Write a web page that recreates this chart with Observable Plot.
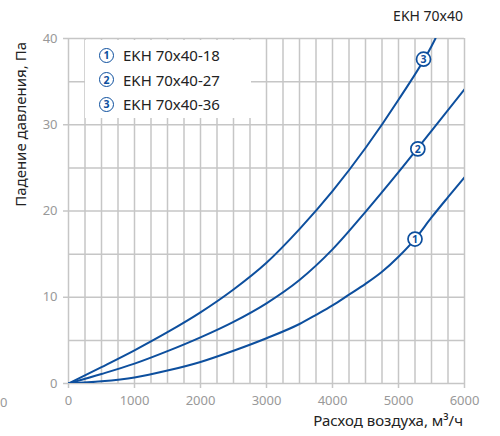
<!DOCTYPE html>
<html><head><meta charset="utf-8">
<script src="https://cdn.jsdelivr.net/npm/d3@7"></script>
<script src="https://cdn.jsdelivr.net/npm/@observablehq/plot@0.6"></script>
<style>
body{margin:0;background:#fff;font-family:"Noto Sans",sans-serif;}
#wrap{position:relative;width:500px;height:436px;overflow:hidden;background:#fff;}
#wrap svg{position:absolute;left:0;top:0;}
.t{position:absolute;white-space:nowrap;color:#222;font-size:15px;line-height:1;}
#legend{position:absolute;left:85px;top:40px;width:166px;height:78px;background:#fff;}
.li{position:absolute;left:14px;height:16px;display:flex;align-items:center;font-size:15px;color:#222;}
.ci{box-sizing:border-box;width:15px;height:15px;border:1.7px solid #0d4f9e;border-radius:50%;color:#0d4f9e;font-weight:bold;font-size:10.5px;display:flex;align-items:center;justify-content:center;margin-right:9px;background:#fff;}
</style></head><body>
<div id="wrap"></div>
<script>
const seriesNames = ["EKH 70x40-18", "EKH 70x40-27", "EKH 70x40-36"];
const seriesMarks = ["1", "2", "3"];
const flow18 = [0, 500, 1000, 1500, 2000, 2500, 3000, 3500, 3750, 4000, 4250, 4500, 4750, 5000, 5250, 5500, 5750, 6000];
const dp18   = [0, 0.25, 0.7, 1.5, 2.5, 3.8, 5.25, 6.9, 7.95, 9.05, 10.3, 11.55, 12.95, 14.7, 16.75, 19.25, 21.6, 23.9];
const flow27 = [0, 500, 1000, 1500, 2000, 2500, 3000, 3500, 4000, 4500, 5000, 5500, 6000];
const dp27   = [0, 1.1, 2.3, 3.75, 5.35, 7.15, 9.3, 12.0, 15.55, 19.9, 24.5, 29.3, 34.1];
const flow36 = [0, 500, 1000, 1500, 2000, 2500, 3000, 3500, 4000, 4500, 5000, 5500, 5560];
const dp36   = [0, 1.9, 3.85, 5.95, 8.25, 10.9, 14.0, 17.9, 22.3, 27.3, 32.9, 39.1, 40];
const markFlow = [5250, 5293, 5379];
const markDp   = [16.75, 27.2, 37.6];
const xTicks = [0, 1000, 2000, 3000, 4000, 5000, 6000];
const yTicks = [0, 10, 20, 30, 40];
const xGrid = d3.range(0, 6001, 250);
const yGrid = d3.range(0, 41, 5);
const titleText = "EKH 70x40";
const xLabel = "Расход воздуха, м³/ч";
const yLabel = "Падение давления, Па";

const blue = "#0d4f9e";
const grid = "#c6c6c6";

const flows = [flow18, flow27, flow36];
const dps = [dp18, dp27, dp36];
const rows = [];
seriesNames.forEach((s, i) => flows[i].forEach((f, j) => rows.push({s, f, p: dps[i][j]})));
const marks = seriesMarks.map((m, i) => ({m, f: markFlow[i], p: markDp[i]}));

const chart = Plot.plot({
  width: 500, height: 436,
  marginLeft: 68, marginRight: 36, marginTop: 38, marginBottom: 53,
  x: {domain: [0, 6000]},
  y: {domain: [0, 40]},
  style: {fontFamily: "Noto Sans", fontSize: "13px", background: "transparent"},
  marks: [
    Plot.ruleX(xGrid, {x: d => d, stroke: grid, strokeWidth: 1.5}),
    Plot.ruleY(yGrid, {y: d => d, stroke: grid, strokeWidth: 1.5}),
    Plot.axisX(xTicks, {tickSize: 5, tickPadding: 7, stroke: grid, strokeWidth: 1.5, fill: "#999", fontSize: 13, label: null, tickFormat: d3.format("d")}),
    Plot.axisY(yTicks, {tickSize: 5, tickPadding: 6, stroke: grid, strokeWidth: 1.5, fill: "#999", fontSize: 13, label: null}),
    Plot.line(rows, {x: "f", y: "p", z: "s", stroke: blue, strokeWidth: 2, curve: "monotone-x", clip: true})
  ]
});
const wrap = document.getElementById("wrap");
wrap.appendChild(chart);

const marksChart = Plot.plot({
  width: 500, height: 436,
  marginLeft: 68, marginRight: 36, marginTop: 38, marginBottom: 53,
  x: {domain: [0, 6000], axis: null},
  y: {domain: [0, 40], axis: null},
  style: {fontFamily: "Noto Sans", background: "transparent"},
  marks: [
    Plot.dot(marks, {x: "f", y: "p", r: 7, fill: "white", stroke: blue, strokeWidth: 1.7}),
    Plot.text(marks, {x: "f", y: "p", text: "m", fill: blue, fontWeight: "bold", fontSize: 10.5, dy: 0.5})
  ]
});
wrap.appendChild(marksChart);

function addText(txt, css) {
  const d = document.createElement("div");
  d.className = "t";
  d.textContent = txt;
  Object.assign(d.style, css);
  wrap.appendChild(d);
  return d;
}
addText(titleText, {right: "37px", top: "9px", fontSize: "14px"});
addText(xLabel, {right: "37px", top: "413px"});
addText(yLabel, {left: "20px", top: "42px", transformOrigin: "0 0", transform: "rotate(-90deg) translate(-100%, -50%)"});
addText("0", {left: "0px", top: "396px", color: "#999", fontSize: "13px"});

const lg = document.createElement("div");
lg.id = "legend";
wrap.appendChild(lg);
seriesNames.forEach((s, i) => {
  const r = document.createElement("div");
  r.className = "li";
  r.style.top = (7 + i * 24.5) + "px";
  const c = document.createElement("span");
  c.className = "ci";
  c.textContent = seriesMarks[i];
  const t = document.createElement("span");
  t.textContent = s;
  r.appendChild(c); r.appendChild(t);
  lg.appendChild(r);
});
</script>
</body></html>
